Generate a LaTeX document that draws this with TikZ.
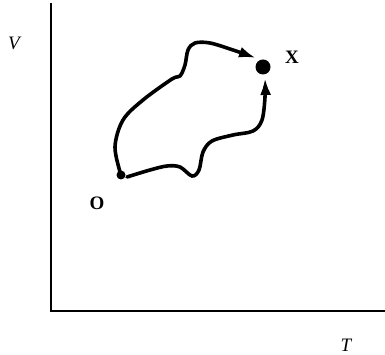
\documentclass[tikz,border=0pt]{standalone}
\usepackage{fontspec}
\setmainfont{Liberation Serif}
\usetikzlibrary{arrows.meta}
\begin{document}
\begin{tikzpicture}[x=1pt,y=1pt,
  axis/.style={line width=2pt},
  pathline/.style={line width=3.6pt,line cap=round,-{Latex[length=17pt,width=11pt]}},
  dot/.style={circle,fill=black,inner sep=0pt},
  lbl/.style={font=\fontsize{19}{19}\selectfont}]
\useasboundingbox (0,0) rectangle (385,355);
\coordinate (origin) at (51,44);
\coordinate (ytop) at (51,352);
\coordinate (xend) at (385,44);
\draw[axis] (ytop) -- (origin) -- (xend);
\node[lbl] (V) at (14,312) {\itshape V};
\node[lbl] (T) at (346,10) {\itshape T};
\node[dot,minimum size=9pt] (O) at (121,180) {};
\node[dot,minimum size=15pt] (X) at (263,288) {};
\node[lbl] (Ol) at (97,152) {\bfseries O};
\node[lbl] (Xl) at (292,298) {\bfseries X};
\draw[pathline] plot[smooth,tension=0.55] coordinates {(O.center) (115,208) (123,235) (143,255) (172,276) (180,279) (185,290) (188,305) (195,312) (210,312) (233,305) (256,297)};
\draw[pathline] plot[smooth,tension=0.55] coordinates {(127,178) (150,185) (167,189) (180,188) (192,179) (199,185) (203,203) (212,214) (233,220) (253,224) (262,235) (265,258) (265,277)};
\end{tikzpicture}
\end{document}
